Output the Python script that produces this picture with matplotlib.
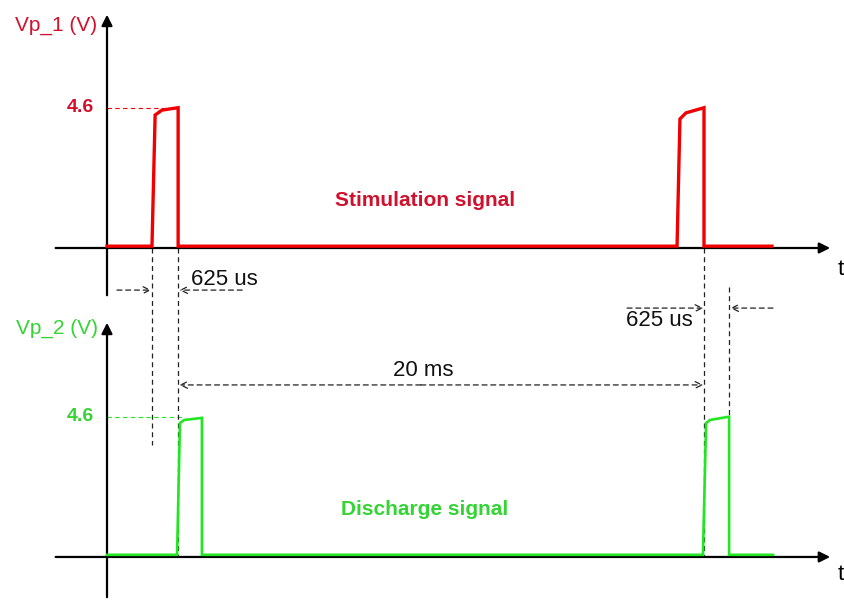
import numpy as np
import matplotlib
matplotlib.use('Agg')
import matplotlib.pyplot as plt

plt.rcParams['font.family'] = ['Liberation Sans', 'DejaVu Sans']

# time in diagram units (20 units = 20 ms spacing), voltage in V
t_stim = [0, 1.72, 1.84, 2.10, 2.72, 2.72, 21.80, 21.91, 22.14, 22.83, 22.83, 25.43]
v_stim = [0.06, 0.06, 4.36, 4.52, 4.60, 0.06, 0.06, 4.23, 4.43, 4.60, 0.06, 0.06]
t_dis = [0, 2.68, 2.79, 2.95, 3.63, 3.63, 22.79, 22.91, 23.06, 23.79, 23.79, 25.47]
v_dis = [0.07, 0.07, 4.39, 4.49, 4.56, 0.07, 0.07, 4.39, 4.49, 4.60, 0.07, 0.07]
v_peak = 4.6
period_label = '20 ms'
width_label = '625 us'

OFFSET = 10.13  # vertical shift of the discharge channel
red_line, red_txt = '#f00000', '#d0102c'
green_line, green_txt = '#22e622', '#33d433'
dash = (0, (4, 3))

fig = plt.figure(figsize=(8.44, 6.05), dpi=100)
ax = fig.add_axes([0, 0, 1, 1])
ax.set_xlim(-4.092, 28.184)
ax.set_ylim(-11.705, 8.131)
ax.axis('off')


def draw_axes(base, ytop, ybot):
    ax.annotate('', xy=(27.76, base), xytext=(-2.07, base),
                arrowprops=dict(arrowstyle='-|>', color='black', lw=1.6, mutation_scale=16))
    ax.annotate('', xy=(0, base + ytop), xytext=(0, base + ybot),
                arrowprops=dict(arrowstyle='-|>', color='black', lw=1.6, mutation_scale=16))


def darrow(x0, y0, x1, y1, style='->'):
    ax.annotate('', xy=(x1, y1), xytext=(x0, y0),
                arrowprops=dict(arrowstyle=style, color='#222222', lw=0.9, ls=dash,
                                shrinkA=0, shrinkB=0, mutation_scale=12))


draw_axes(0, 7.74, -1.64)
draw_axes(-OFFSET, 7.77, -1.41)

# signals
ax.plot(t_stim, v_stim, color=red_line, lw=2.4, solid_joinstyle='miter', zorder=5)
ax.plot(t_dis, np.array(v_dis) - OFFSET, color=green_line, lw=1.9, solid_joinstyle='miter', zorder=5)

# 4.6 level markers
ax.plot([0, t_stim[4]], [v_peak, v_peak], color=red_line, lw=0.8, ls=dash)
ax.plot([0, t_dis[3]], [v_peak - OFFSET, v_peak - OFFSET], color=green_line, lw=0.8, ls=dash)
ax.text(-0.5, v_peak, str(v_peak), color=red_txt, fontsize=14, fontweight='bold', ha='right', va='center')
ax.text(-0.5, v_peak - OFFSET, str(v_peak), color=green_txt, fontsize=14, fontweight='bold',
        ha='right', va='center')

ax.text(-0.38, 7.31, 'Vp_1 (V)', color=red_txt, fontsize=15, ha='right', va='center')
ax.text(-0.34, 7.31 - OFFSET + 0.2, 'Vp_2 (V)', color=green_txt, fontsize=15, ha='right', va='center')
ax.text(27.95, -0.69, 't', fontsize=16, ha='left', va='center')
ax.text(27.95, -0.56 - OFFSET, 't', fontsize=16, ha='left', va='center')

ax.text(12.16, 1.57, 'Stimulation signal', color=red_txt, fontsize=15, fontweight='bold',
        ha='center', va='center')
ax.text(12.16, 1.57 - OFFSET, 'Discharge signal', color=green_txt, fontsize=15, fontweight='bold',
        ha='center', va='center')

# vertical guide lines
ax.plot([t_stim[1], t_stim[1]], [0, -6.46], color='#222222', lw=0.9, ls=dash)
ax.plot([t_stim[4], t_stim[4]], [0, -OFFSET], color='#222222', lw=0.9, ls=dash)
ax.plot([t_stim[9], t_stim[9]], [0, -OFFSET], color='#222222', lw=0.9, ls=dash)
ax.plot([t_dis[9], t_dis[9]], [-1.28, v_peak - OFFSET], color='#222222', lw=0.9, ls=dash)

# 625 us, left
darrow(0.38, -1.38, t_stim[1] - 0.03, -1.38)
darrow(5.17, -1.38, t_stim[4] + 0.05, -1.38)
ax.text(4.47, -1.02, width_label, color='#111111', fontsize=16, ha='center', va='center')

# 625 us, right
darrow(19.89, -1.97, t_stim[9] - 0.03, -1.97)
darrow(25.47, -1.97, t_dis[9] + 0.05, -1.97)
ax.text(21.11, -2.39, width_label, color='#111111', fontsize=16, ha='center', va='center')

# 20 ms period
darrow(12.0, -4.49, t_stim[4] + 0.05, -4.49)
darrow(12.0, -4.49, t_stim[9] - 0.03, -4.49)
ax.text(12.08, -4.03, period_label, color='#111111', fontsize=16, ha='center', va='center')

fig.savefig('out.png', dpi=100)
